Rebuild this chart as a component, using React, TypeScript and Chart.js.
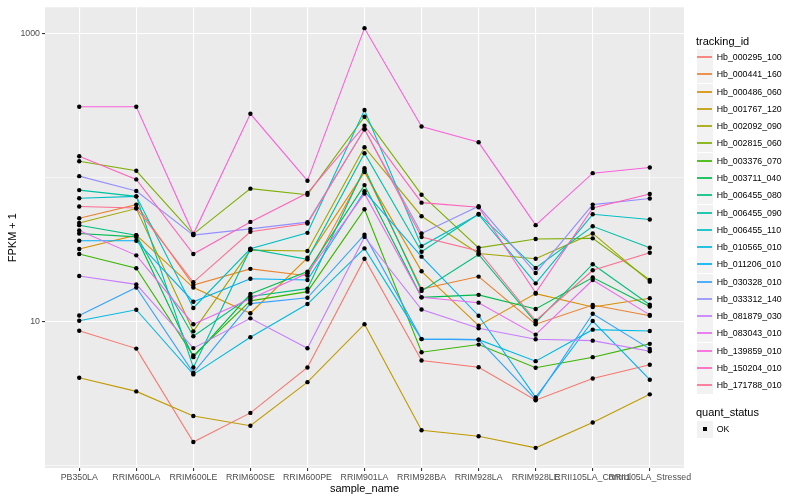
import React, { useEffect, useRef } from "react";
import { Chart, registerables } from "chart.js";

Chart.register(...registerables);

// ---------- data ----------
const categories = [
  "PB350LA",
  "RRIM600LA",
  "RRIM600LE",
  "RRIM600SE",
  "RRIM600PE",
  "RRIM901LA",
  "RRIM928BA",
  "RRIM928LA",
  "RRIM928LE",
  "RRII105LA_Control",
  "RRII105LA_Stressed",
];

const trackingIds = [
  "Hb_000295_100",
  "Hb_000441_160",
  "Hb_000486_060",
  "Hb_001767_120",
  "Hb_002092_090",
  "Hb_002815_060",
  "Hb_003376_070",
  "Hb_003711_040",
  "Hb_006455_080",
  "Hb_006455_090",
  "Hb_006455_110",
  "Hb_010565_010",
  "Hb_011206_010",
  "Hb_030328_010",
  "Hb_033312_140",
  "Hb_081879_030",
  "Hb_083043_010",
  "Hb_139859_010",
  "Hb_150204_010",
  "Hb_171788_010",
];

const seriesColors = [
  "#F8766D", "#EA8331", "#D89000", "#C09B00", "#A3A500",
  "#7CAE00", "#39B600", "#00BB4E", "#00BF7D", "#00C1A3",
  "#00BFC4", "#00BAE0", "#00B0F6", "#35A2FF", "#9590FF",
  "#C77CFF", "#E76BF3", "#FA62DB", "#FF62BC", "#FF6C91",
];

// FPKM + 1 per sample (same order as categories)
const hb_000295_100 = [8.62, 6.47, 1.45, 2.31, 4.78, 27.3, 5.35, 4.8, 2.83, 4.01, 4.99];
const hb_000441_160 = [52.2, 64.9, 17.9, 23.2, 20.8, 112.1, 16.8, 20.5, 9.56, 13.0, 10.95];
const hb_000486_060 = [31.9, 39.8, 17.2, 11.4, 27.7, 109.2, 22.3, 9.34, 15.6, 12.6, 14.5];
const hb_001767_120 = [4.06, 3.26, 2.2, 1.88, 3.78, 9.56, 1.75, 1.59, 1.32, 1.98, 3.11];
const hb_002092_090 = [48.4, 60.9, 8.53, 31.3, 30.9, 162.6, 53.9, 29.7, 27.3, 40.9, 18.9];
const hb_002815_060 = [130.1, 111.6, 40.5, 83.8, 76.1, 265, 76.1, 32.5, 37.4, 37.8, 19.4];
const hb_003376_070 = [29.4, 23.4, 5.79, 13.9, 16.1, 60.3, 6.1, 6.9, 4.76, 5.64, 6.98];
const hb_003711_040 = [40.9, 38.7, 5.64, 15.5, 22.2, 88.7, 14.7, 15.3, 12.2, 20.2, 12.7];
const hb_006455_080 = [46.7, 39.8, 7.88, 14.9, 16.9, 116.3, 16.3, 29.2, 9.84, 25.0, 13.05];
const hb_006455_090 = [81.9, 74.1, 4.78, 31.9, 27.0, 147.8, 30.5, 55.9, 23.5, 45.9, 32.5];
const hb_006455_110 = [71.8, 74.1, 12.4, 32.0, 41.3, 295, 33.4, 55.4, 18.4, 55.6, 51.1];
const hb_010565_010 = [10.1, 12.05, 4.28, 7.75, 13.2, 32.2, 7.53, 7.47, 5.29, 8.76, 8.58];
const hb_011206_010 = [36.4, 36.4, 13.7, 19.8, 19.4, 80.3, 28.2, 10.95, 2.96, 10.06, 3.93];
const hb_030328_010 = [11.0, 17.2, 4.39, 13.3, 14.6, 40.1, 7.53, 7.47, 2.87, 11.3, 6.44];
const hb_033312_140 = [102.4, 80.7, 39.8, 44.0, 49.0, 217, 40.9, 63.2, 21.7, 64.9, 71.5];
const hb_081879_030 = [20.7, 18.1, 6.52, 10.5, 6.5, 38.7, 12.1, 8.95, 7.51, 7.35, 6.2];
const hb_083043_010 = [42.9, 28.8, 9.56, 14.4, 21.6, 77.4, 14.7, 13.5, 8.09, 19.4, 11.1];
const hb_139859_010 = [311, 311, 40.5, 278, 95.2, 1095, 227, 176, 46.7, 107.4, 117.6];
const hb_150204_010 = [140.9, 97.2, 29.4, 49.2, 78.1, 229.7, 67.0, 62.2, 15.8, 61.5, 76.9];
const hb_171788_010 = [62.9, 61.5, 18.7, 42.0, 48.0, 217, 38.6, 30.9, 10.1, 22.7, 30.0];

const seriesValues = [
  hb_000295_100, hb_000441_160, hb_000486_060, hb_001767_120, hb_002092_090,
  hb_002815_060, hb_003376_070, hb_003711_040, hb_006455_080, hb_006455_090,
  hb_006455_110, hb_010565_010, hb_011206_010, hb_030328_010, hb_033312_140,
  hb_081879_030, hb_083043_010, hb_139859_010, hb_150204_010, hb_171788_010,
];

const yBreaks = [1, 10, 100, 1000];
const yLabelled = [10, 1000];

// ---------- styling ----------
const FONT = '"Liberation Sans", Arial, Helvetica, sans-serif';

const panelBg = {
  id: "panelBg",
  beforeDraw(chart: any) {
    const { ctx, chartArea: a } = chart;
    ctx.save();
    ctx.fillStyle = "#EBEBEB";
    ctx.fillRect(a.left, a.top, a.right - a.left, a.bottom - a.top);
    ctx.restore();
  },
};

export default function App() {
  const ref = useRef<HTMLCanvasElement | null>(null);

  useEffect(() => {
    if (!ref.current) return;
    const n = seriesValues.length;
    const lineSets: any[] = seriesValues.map((vals, i) => ({
      label: trackingIds[i],
      data: vals.map((v, j) => ({ x: j, y: v })),
      borderColor: seriesColors[i],
      backgroundColor: seriesColors[i],
      borderWidth: 1.1,
      pointRadius: 0,
      pointHoverRadius: 0,
      tension: 0,
      fill: false,
      order: n - i,
    }));
    const pointSet: any = {
      label: "OK",
      data: seriesValues.flatMap((vals) => vals.map((v, j) => ({ x: j, y: v }))),
      showLine: false,
      pointRadius: 2.2,
      pointHoverRadius: 2.2,
      pointBackgroundColor: "#000000",
      pointBorderColor: "#000000",
      pointBorderWidth: 0,
      borderColor: "#000000",
      order: 0,
    };

    const isMajor = (ctx: any) => ctx.tick && yLabelled.includes(ctx.tick.value);

    const chart = new Chart(ref.current, {
      type: "line",
      data: { datasets: [pointSet, ...lineSets] },
      plugins: [panelBg],
      options: {
        responsive: false,
        animation: false,
        events: [],
        layout: { padding: { left: 0, top: 5, right: 116, bottom: 0 } },
        plugins: {
          legend: { display: false },
          tooltip: { enabled: false },
        },
        scales: {
          x: {
            type: "linear",
            min: -0.6,
            max: 10.6,
            bounds: "data",
            afterBuildTicks: (s: any) => {
              s.ticks = categories.map((_, i) => ({ value: i }));
            },
            afterFit: (s: any) => {
              s.height = 32;
            },
            ticks: {
              autoSkip: false,
              maxRotation: 0,
              minRotation: 0,
              padding: 1,
              color: "#4D4D4D",
              font: { family: FONT, size: 8.8 },
              callback: (v: any) => categories[v as number] ?? "",
            },
            grid: {
              color: "#FFFFFF",
              lineWidth: 1.1,
              tickColor: "#333333",
              tickLength: 3,
              tickWidth: 1.1,
            },
            border: { display: false },
            title: {
              display: true,
              text: "sample_name",
              color: "#000000",
              font: { family: FONT, size: 11 },
              padding: { top: 0, bottom: 4 },
            },
          },
          y: {
            type: "logarithmic",
            min: 0.956,
            max: 1530,
            bounds: "data",
            afterBuildTicks: (s: any) => {
              s.ticks = yBreaks.map((v) => ({ value: v }));
            },
            afterFit: (s: any) => {
              s.width = 45;
            },
            ticks: {
              autoSkip: false,
              padding: 2,
              color: "#4D4D4D",
              font: { family: FONT, size: 8.8 },
              callback: (v: any) => (yLabelled.includes(v as number) ? String(v) : ""),
            },
            grid: {
              color: "#FFFFFF",
              lineWidth: (ctx: any) => (isMajor(ctx) ? 1.1 : 0.55),
              tickColor: (ctx: any) => (isMajor(ctx) ? "#333333" : "rgba(0,0,0,0)"),
              tickLength: 3,
              tickWidth: 1.1,
            },
            border: { display: false },
            title: {
              display: true,
              text: "FPKM + 1",
              color: "#000000",
              font: { family: FONT, size: 11 },
              padding: { top: 6, bottom: 0 },
            },
          },
        },
      } as any,
    });
    return () => chart.destroy();
  }, []);

  const rowH = 17.28;
  const keyTop = 49;

  return (
    <div
      style={{
        position: "fixed",
        left: 0,
        top: 0,
        width: 800,
        height: 500,
        background: "#FFFFFF",
        fontFamily: FONT,
      }}
    >
      <canvas ref={ref} width={800} height={500} style={{ width: 800, height: 500, display: "block" }} />
      <div
        style={{
          position: "absolute",
          left: 696,
          top: 33.5,
          fontSize: 11,
          lineHeight: "14px",
          color: "#000",
          whiteSpace: "nowrap",
        }}
      >
        tracking_id
      </div>
      {trackingIds.map((id, i) => {
        const top = Math.round(keyTop + rowH * i);
        return (
          <React.Fragment key={id}>
            <div
              style={{
                position: "absolute",
                left: 697,
                top,
                width: 16,
                height: 17,
                background: "#F2F2F2",
              }}
            >
              <div
                style={{
                  position: "absolute",
                  left: 0,
                  width: 15,
                  top: 7,
                  height: 2,
                  background: seriesColors[i],
                  opacity: 0.85,
                }}
              />
            </div>
            <div
              style={{
                position: "absolute",
                left: 716.7,
                top,
                height: 17,
                lineHeight: "17px",
                fontSize: 8.8,
                color: "#000",
                whiteSpace: "nowrap",
              }}
            >
              {id}
            </div>
          </React.Fragment>
        );
      })}
      <div
        style={{
          position: "absolute",
          left: 696,
          top: 405.3,
          fontSize: 11,
          lineHeight: "14px",
          color: "#000",
          whiteSpace: "nowrap",
        }}
      >
        quant_status
      </div>
      <div
        style={{
          position: "absolute",
          left: 697,
          top: 421,
          width: 16,
          height: 17,
          background: "#F2F2F2",
        }}
      >
        <div
          style={{
            position: "absolute",
            left: 6,
            top: 6,
            width: 4,
            height: 4,
            background: "#000",
          }}
        />
      </div>
      <div
        style={{
          position: "absolute",
          left: 716.7,
          top: 421,
          height: 17,
          lineHeight: "17px",
          fontSize: 8.8,
          color: "#000",
        }}
      >
        OK
      </div>
    </div>
  );
}
